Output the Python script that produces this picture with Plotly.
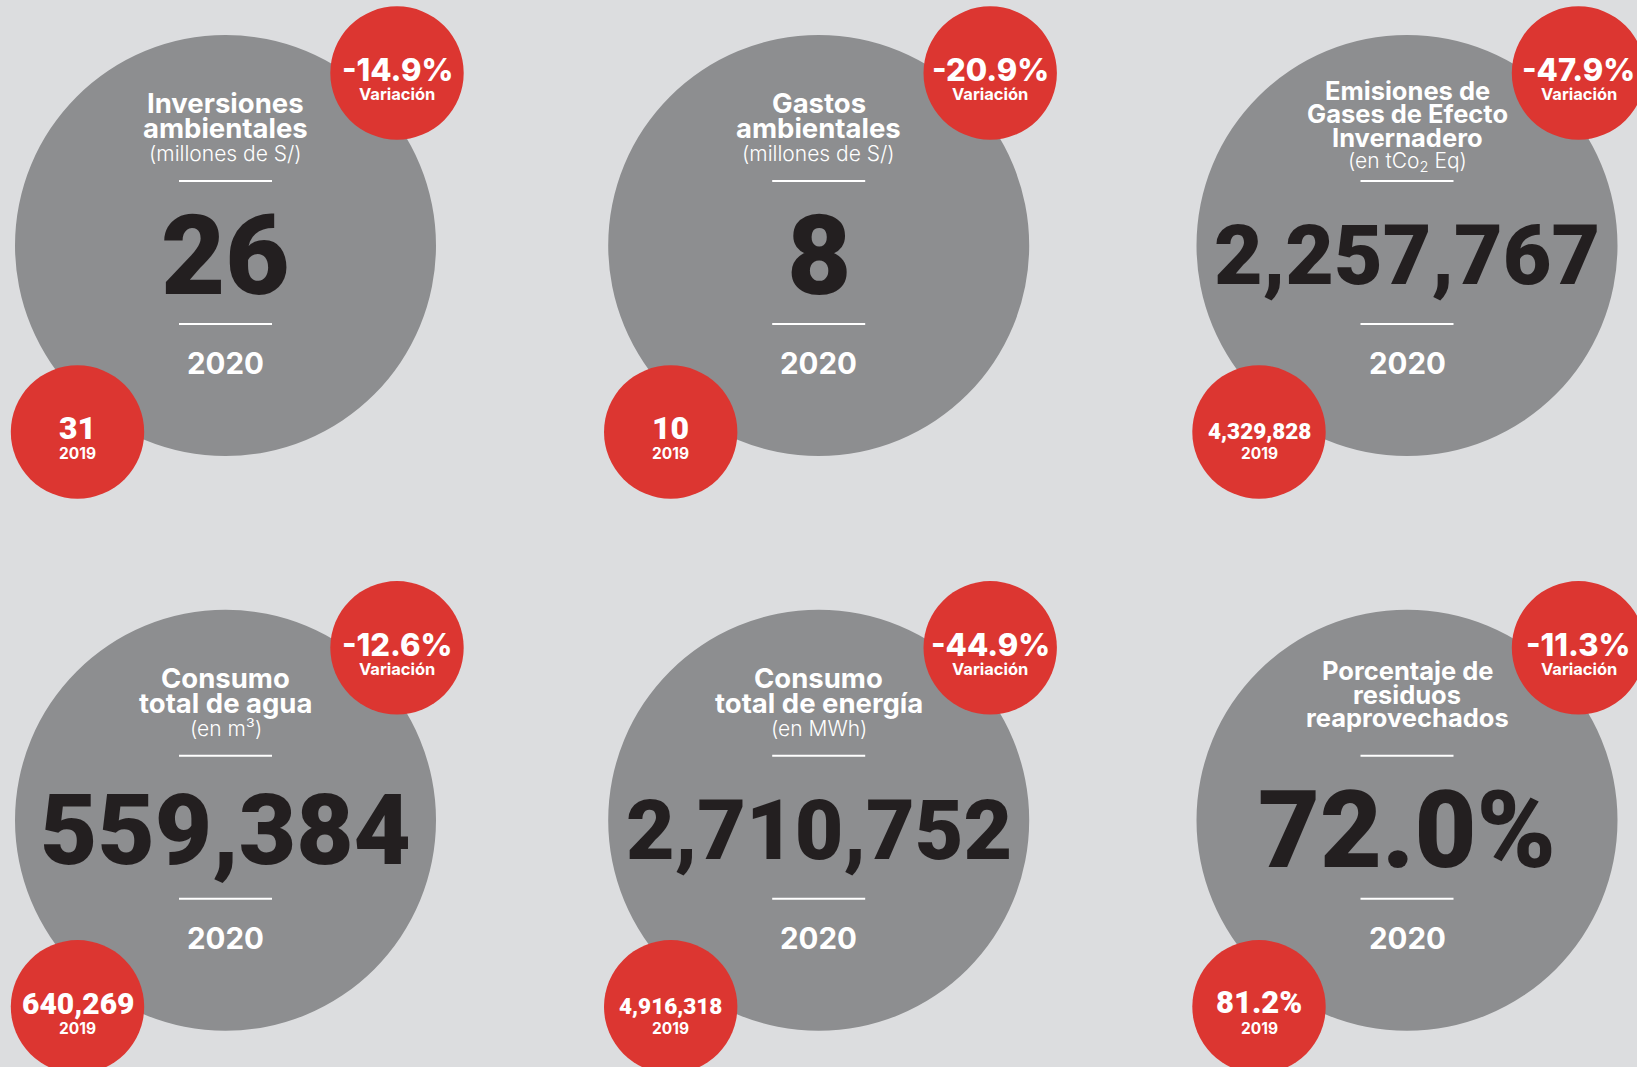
import plotly.graph_objects as go

# card contents, read left-to-right, top-to-bottom
titles = [
    ["Inversiones", "ambientales"],
    ["Gastos", "ambientales"],
    ["Emisiones de", "Gases de Efecto", "Invernadero"],
    ["Consumo", "total de agua"],
    ["Consumo", "total de energía"],
    ["Porcentaje de", "residuos", "reaprovechados"],
]
units = ["(millones de S/)", "(millones de S/)", "(en tCo<sub>2</sub> Eq)", "(en m³)", "(en MWh)", ""]
values_2020 = ["26", "8", "2,257,767", "559,384", "2,710,752", "72.0%"]
values_2019 = ["31", "10", "4,329,828", "640,269", "4,916,318", "81.2%"]
variations = ["-14.9%", "-20.9%", "-47.9%", "-12.6%", "-44.9%", "-11.3%"]
year_now = "2020"
year_prev = "2019"
variation_label = "Variación"

# colours
BG = "#dcdddf"
GREY = "#8d8e90"
RED = "#dc3631"
DARK = "#231f20"
WHITE = "#ffffff"

W, H = 1637, 1067
COL_X = [225.5, 818.7, 1407]
ROW_Y = [245.5, 820.3]
R_BIG = 210.5
R_SMALL = 66.7
TOP_OFF = (171.5, -172.5)
BOT_OFF = (-148, 186.5)

TXT = "Inter"
NUM = "Roboto"

# big figure size depends on how many characters it has
big_size = {1: 111, 2: 111, 5: 107, 7: 99, 9: 84}
small_size = {2: 32, 5: 31, 7: 30, 9: 22.5}

fig = go.Figure()
fig.add_trace(go.Scatter(x=[0, W], y=[0, H], mode="markers", marker=dict(opacity=0), hoverinfo="skip"))

shapes = []
annotations = []


def circle(cx, cy, r, color):
    shapes.append(dict(type="circle", xref="x", yref="y", x0=cx - r, x1=cx + r, y0=cy - r, y1=cy + r,
                       fillcolor=color, line=dict(width=0), layer="above"))


def label(x, y_base, text, family, size, color, weight, cap=0.364):
    # y_base is the baseline; annotations are centred on their box, roughly the cap middle
    annotations.append(dict(x=x, y=y_base - cap * size, xref="x", yref="y", text=text, showarrow=False,
                            xanchor="center", yanchor="middle", borderpad=0,
                            font=dict(family=family, size=size, color=color, weight=weight)))


for i in range(len(titles)):
    cx = COL_X[i % 3]
    cy = ROW_Y[i // 3]
    circle(cx, cy, R_BIG, GREY)

    # title block
    n = len(titles[i])
    tsize = 27.5 if n == 2 else 25.5
    spacing = 25 if n == 2 else 23.5
    unit_base = -84 if n == 2 else -75.5
    last_base = unit_base - 23.5 if units[i] else -93.5
    for j, line in enumerate(titles[i]):
        label(cx, cy + last_base - (n - 1 - j) * spacing, line, TXT, tsize, WHITE, 700)
    if units[i]:
        label(cx, cy + unit_base, units[i], TXT, 21, WHITE, 300)

    # separators
    for dy in (-64.5, 78.5):
        shapes.append(dict(type="line", xref="x", yref="y", x0=cx - 46.5, x1=cx + 46.5, y0=cy + dy, y1=cy + dy,
                           line=dict(color=WHITE, width=2), layer="above"))

    # main value and year
    bs = big_size[len(values_2020[i])]
    label(cx, cy + 10 + 0.355 * bs, values_2020[i], NUM, bs, DARK, 900, cap=0.355)
    label(cx, cy + 128.5, year_now, TXT, 29.5, WHITE, 700)

    # variation bubble
    tx, ty = cx + TOP_OFF[0], cy + TOP_OFF[1]
    circle(tx, ty, R_SMALL, RED)
    label(tx, ty + 7.5, variations[i], TXT, 31, WHITE, 800)
    label(tx, ty + 27.5, variation_label, TXT, 16.5, WHITE, 700)

    # previous year bubble
    bx, by = cx + BOT_OFF[0], cy + BOT_OFF[1]
    circle(bx, by, R_SMALL, RED)
    ss = small_size[len(values_2019[i])]
    label(bx, by + 7, values_2019[i], NUM, ss, WHITE, 900, cap=0.355)
    label(bx, by + 27, year_prev, TXT, 15.5, WHITE, 700)

fig.update_layout(
    width=W, height=H,
    margin=dict(l=0, r=0, t=0, b=0),
    paper_bgcolor=BG, plot_bgcolor=BG,
    showlegend=False,
    xaxis=dict(range=[0, W], visible=False, fixedrange=True),
    yaxis=dict(range=[H, 0], visible=False, fixedrange=True),
    shapes=shapes,
    annotations=annotations,
)

fig.write_html("out.html", config={"displayModeBar": False},
               post_script="document.body.style.margin='0';document.body.style.overflow='hidden';")
